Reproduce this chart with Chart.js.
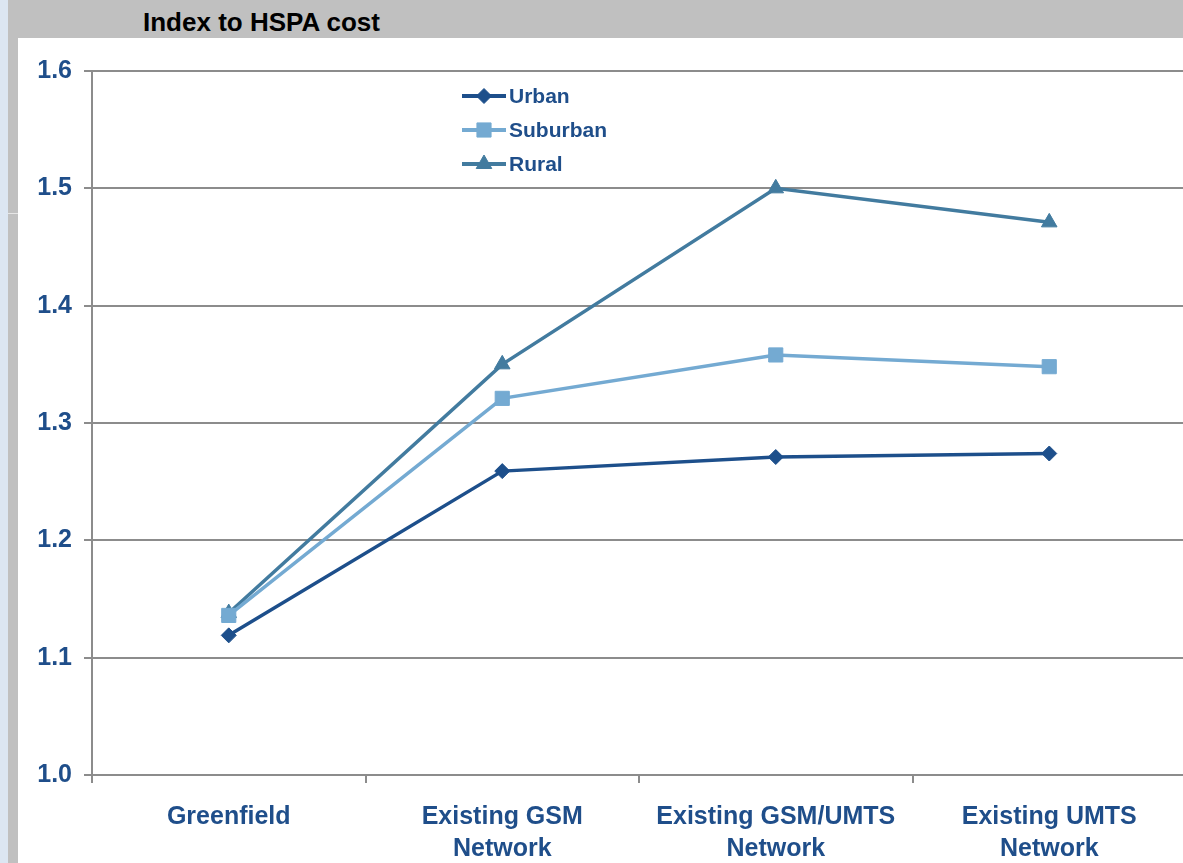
<!DOCTYPE html>
<html>
<head>
<meta charset="utf-8">
<script src="https://cdn.jsdelivr.net/npm/chart.js@4"></script>
<style>
  html, body { margin: 0; padding: 0; width: 1183px; height: 863px; overflow: hidden; background: #fff; }
  .strip-blue { position: absolute; left: 0; top: 0; width: 8px; height: 863px; background: #dce6f2; }
  .strip-gray { position: absolute; left: 8px; top: 0; width: 10px; height: 863px; background: #c0c0c0; }
  .strip-mark { position: absolute; left: 8px; top: 213px; width: 10px; height: 1px; background: #e6e6e6; }
  .band { position: absolute; left: 8px; top: 0; width: 1175px; height: 38px; background: #c0c0c0; }
  .title { position: absolute; left: 143px; top: 9px; font: bold 26px "Liberation Sans", Arial, sans-serif; color: #000; line-height: 1; }
  .wrap { position: absolute; left: 18px; top: 38px; width: 1180px; height: 825px; }
</style>
</head>
<body>
<div class="strip-blue"></div>
<div class="strip-gray"></div>
<div class="strip-mark"></div>
<div class="band"></div>
<div class="title">Index to HSPA cost</div>
<div class="wrap"><canvas id="chart"></canvas></div>
<script>
const categories = [
  'Greenfield',
  ['Existing GSM', 'Network'],
  ['Existing GSM/UMTS', 'Network'],
  ['Existing UMTS', 'Network']
];
const urban = [1.119, 1.259, 1.271, 1.274];
const suburban = [1.136, 1.321, 1.358, 1.348];
const rural = [1.138, 1.350, 1.500, 1.471];
const yTicks = [1.0, 1.1, 1.2, 1.3, 1.4, 1.5, 1.6];

const labelBlue = '#1f4e8a';
const gridGray = '#8c8c8c';

Chart.defaults.font.family = '"Liberation Sans", Arial, sans-serif';

// legend drawn inside the plot, line + marker like the original
const insideLegend = {
  id: 'insideLegend',
  afterDraw(chart) {
    const ctx = chart.ctx;
    const area = chart.chartArea;
    const x0 = area.left + 370;
    const y0 = area.top + 25;
    ctx.save();
    chart.data.datasets.forEach((ds, i) => {
      const y = y0 + i * 34;
      ctx.strokeStyle = ds.borderColor;
      ctx.lineWidth = 4;
      ctx.beginPath();
      ctx.moveTo(x0, y);
      ctx.lineTo(x0 + 44, y);
      ctx.stroke();
      ctx.fillStyle = ds.backgroundColor;
      ctx.strokeStyle = ds.borderColor;
      ctx.lineWidth = 1;
      Chart.helpers.drawPoint(ctx, {
        pointStyle: ds.pointStyle,
        radius: ds.pointRadius,
        rotation: 0,
        borderWidth: 1
      }, x0 + 22, y);
      ctx.fillStyle = labelBlue;
      ctx.font = 'bold 21px "Liberation Sans", Arial, sans-serif';
      ctx.textBaseline = 'middle';
      ctx.textAlign = 'left';
      ctx.fillText(ds.label, x0 + 47, y + 1);
    });
    ctx.restore();
  }
};

const data = {
  labels: categories,
  datasets: [
    {
      label: 'Urban',
      data: urban,
      borderColor: '#1d4f8b',
      backgroundColor: '#1d4f8b',
      pointStyle: 'rectRot',
      pointRadius: 7.5
    },
    {
      label: 'Suburban',
      data: suburban,
      borderColor: '#74aad2',
      backgroundColor: '#74aad2',
      pointStyle: 'rect',
      pointRadius: 10
    },
    {
      label: 'Rural',
      data: rural,
      borderColor: '#427b9f',
      backgroundColor: '#427b9f',
      pointStyle: 'triangle',
      pointRadius: 9
    }
  ]
};

const config = {
  type: 'line',
  data: data,
  options: {
    responsive: true,
    maintainAspectRatio: false,
    animation: false,
    elements: {
      line: { borderWidth: 3.5, tension: 0 },
      point: { borderWidth: 1 }
    },
    layout: { padding: { top: 33, right: 12, left: 0, bottom: 0 } },
    plugins: {
      legend: { display: false },
      tooltip: { enabled: false }
    },
    scales: {
      x: {
        offset: true,
        grid: {
          offset: true,
          drawOnChartArea: false,
          color: gridGray,
          lineWidth: 2,
          tickLength: 8
        },
        border: { display: false },
        ticks: {
          autoSkip: false,
          maxRotation: 0,
          padding: 18,
          color: labelBlue,
          font: { size: 25, weight: 'bold', lineHeight: 1.28 }
        },
        afterFit(scale) { scale.height = 88; }
      },
      y: {
        min: 1.0,
        max: 1.6,
        afterBuildTicks(scale) { scale.ticks = yTicks.map(v => ({ value: v })); },
        grid: {
          color: gridGray,
          lineWidth: 2,
          tickLength: 8
        },
        border: { color: gridGray, width: 2 },
        ticks: {
          padding: 12,
          color: labelBlue,
          font: { size: 25, weight: 'bold' },
          callback: v => Number(v).toFixed(1)
        },
        afterFit(scale) { scale.width = 74; }
      }
    }
  },
  plugins: [insideLegend]
};

new Chart(document.getElementById('chart'), config);
</script>
</body>
</html>
